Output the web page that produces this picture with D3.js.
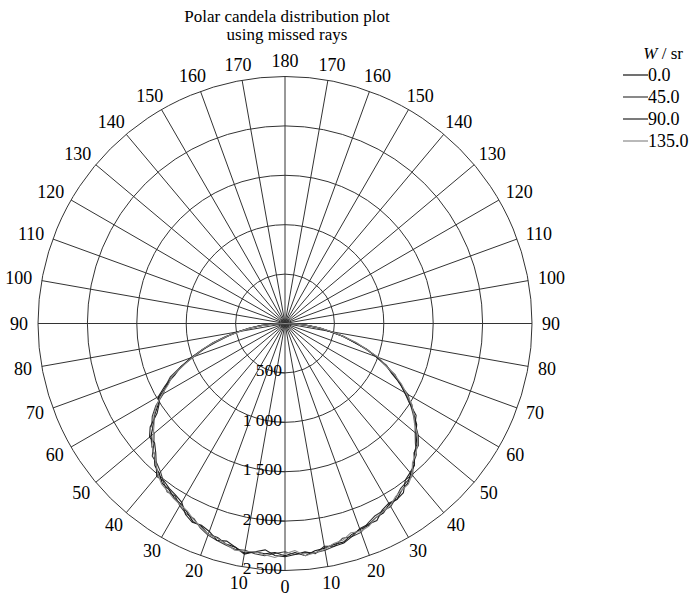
<!DOCTYPE html>
<html>
<head>
<meta charset="utf-8">
<script src="https://cdn.jsdelivr.net/npm/d3@7/dist/d3.min.js"></script>
<style>
  html, body { margin: 0; padding: 0; background: #fff; }
  svg { display: block; font-family: "Liberation Serif", "DejaVu Serif", serif; }
</style>
</head>
<body>
<svg id="chart" width="700" height="599"></svg>
<script>
// ---- data ----
const titleLines = ["Polar candela distribution plot", "using missed rays"];
const legendTitle = "W / sr";
const seriesNames = ["0.0", "45.0", "90.0", "135.0"];
const angles = [-90,-87.5,-85,-82.5,-80,-77.5,-75,-72.5,-70,
                -67.5,-65,-62.5,-60,-57.5,-55,-52.5,-50,
                -47.5,-45,-42.5,-40,-37.5,-35,-32.5,-30,
                -27.5,-25,-22.5,-20,-17.5,-15,-12.5,-10,
                -7.5,-5,-2.5,0,
                2.5,5,7.5,10,12.5,15,17.5,20,
                22.5,25,27.5,30,32.5,35,37.5,40,
                42.5,45,47.5,50,52.5,55,57.5,60,
                62.5,65,67.5,70,72.5,75,77.5,80,
                82.5,85,87.5,90];
const s0 = [0,130,250,370,490,600,750,880,1010,
            1120,1260,1340,1460,1520,1610,1680,1770,
            1830,1870,1950,1980,2040,2050,2090,2110,
            2150,2210,2220,2270,2270,2310,2320,2360,
            2330,2340,2320,2350,
            2320,2360,2320,2310,2290,2290,2240,2220,
            2210,2170,2160,2110,2110,2060,2040,1980,
            1940,1850,1810,1730,1680,1590,1520,1400,
            1320,1200,1110,980,870,720,610,460,
            360,220,120,0];
const s45 = [0,110,230,350,470,620,760,860,980,
             1140,1280,1360,1420,1550,1640,1700,1730,
             1800,1900,1920,1960,2020,2080,2070,2130,
             2170,2180,2240,2280,2300,2320,2340,2330,
             2350,2360,2330,2310,
             2340,2330,2340,2330,2310,2250,2260,2250,
             2190,2150,2140,2140,2090,2040,2020,2010,
             1920,1880,1790,1720,1660,1580,1500,1440,
             1300,1230,1090,1000,850,740,590,480,
             340,240,100,0];
const s90 = [0,120,250,350,490,590,720,870,1010,
             1140,1230,1370,1480,1510,1580,1720,1790,
             1790,1850,1930,2020,2010,2040,2060,2090,
             2180,2220,2210,2240,2300,2280,2320,2370,
             2330,2300,2350,2360,
             2340,2320,2350,2290,2310,2300,2260,2210,
             2200,2200,2130,2100,2110,2090,2000,1970,
             1940,1850,1830,1760,1660,1620,1490,1400,
             1310,1190,1110,980,870,720,600,460,
             350,220,110,0];
const s135 = [0,100,220,360,460,600,750,880,990,
              1120,1260,1330,1440,1540,1620,1670,1740,
              1830,1870,1930,2000,2050,2070,2100,2120,
              2140,2190,2230,2270,2280,2310,2350,2340,
              2330,2350,2370,2330,
              2300,2360,2340,2320,2280,2270,2220,2240,
              2220,2170,2150,2130,2080,2060,2050,2000,
              1910,1870,1820,1750,1650,1590,1520,1420,
              1330,1220,1100,1010,860,750,600,480,
              360,230,110,0];
const radialTicks = [500, 1000, 1500, 2000, 2500];
const radialTickLabels = ["500", "1 000", "1 500", "2 000", "2 500"];
const angleTicks = [0,10,20,30,40,50,60,70,80,90,100,110,120,130,140,150,160,170,180];
const seriesColors = ["#111", "#3a3a3a", "#222", "#8a8a8a"];

// ---- layout ----
const svg = d3.select("#chart");
const cx = 285, cy = 323.5, R = 247;
const rScale = d3.scaleLinear().domain([0, 2500]).range([0, R]);
const toRad = d => d * Math.PI / 180;
const gridColor = "#333";

const g = svg.append("g").attr("transform", `translate(${cx},${cy})`);

// circles
g.selectAll("circle.grid").data(radialTicks).join("circle")
  .attr("class", "grid")
  .attr("r", d => rScale(d))
  .attr("fill", "none").attr("stroke", gridColor).attr("stroke-width", 1);

// spokes every 10 degrees (both sides)
const spokeAngles = [];
angleTicks.forEach(a => { spokeAngles.push(a); if (a > 0 && a < 180) spokeAngles.push(-a); });
g.selectAll("line.spoke").data(spokeAngles).join("line")
  .attr("class", "spoke")
  .attr("x1", 0).attr("y1", 0)
  .attr("x2", d => R * Math.sin(toRad(d)))
  .attr("y2", d => R * Math.cos(toRad(d)))
  .attr("stroke", gridColor).attr("stroke-width", 1);

// curves
const allSeries = [s0, s45, s90, s135];
const line = d3.lineRadial()
  .angle(d => Math.PI - toRad(d[0]))
  .radius(d => rScale(d[1]))
  .curve(d3.curveLinear);
allSeries.forEach((s, i) => {
  const pts = angles.map((a, j) => [a, s[j]]);
  g.append("path").datum(pts)
    .attr("d", line)
    .attr("fill", "none")
    .attr("stroke", seriesColors[i])
    .attr("stroke-width", 1.1);
});

// angle labels
const labelFont = 18, capH = 12;
spokeAngles.forEach(a => {
  const ux = Math.sin(toRad(a)), uy = Math.cos(toRad(a));
  const ax = (R + 10) * ux, ay = (R + 10) * uy;
  const t = g.append("text")
    .attr("font-size", labelFont)
    .attr("text-anchor", "middle")
    .text(Math.abs(a));
  const w = t.node().getComputedTextLength();
  const tx = ax + ux * w / 2;
  const ty = ay + uy * capH / 2;
  t.attr("x", tx).attr("y", ty + capH / 2);
});

// radial tick labels
radialTicks.forEach((v, i) => {
  const y = rScale(v);
  g.append("line").attr("x1", -4).attr("x2", 0).attr("y1", y).attr("y2", y)
    .attr("stroke", gridColor).attr("stroke-width", 1);
  g.append("text")
    .attr("x", -3).attr("y", y + 3.5)
    .attr("text-anchor", "end")
    .attr("font-size", 17.5)
    .text(radialTickLabels[i]);
});

// title
svg.selectAll("text.title").data(titleLines).join("text")
  .attr("class", "title")
  .attr("x", 287).attr("y", (d, i) => 22 + i * 18)
  .attr("text-anchor", "middle")
  .attr("font-size", 17)
  .text(d => d);

// legend
const lt = svg.append("text").attr("x", 683).attr("y", 59)
  .attr("text-anchor", "end").attr("font-size", 17);
lt.append("tspan").attr("font-style", "italic").text(legendTitle.split(" ")[0]);
lt.append("tspan").text(" " + legendTitle.split(" ").slice(1).join(" "));

seriesNames.forEach((n, i) => {
  const y = 75 + i * 22;
  svg.append("line").attr("x1", 623).attr("x2", 648).attr("y1", y).attr("y2", y)
    .attr("stroke", seriesColors[i]).attr("stroke-width", 1.2);
  svg.append("text").attr("x", 648).attr("y", y + 6)
    .attr("font-size", 18).text(n);
});
</script>
</body>
</html>
